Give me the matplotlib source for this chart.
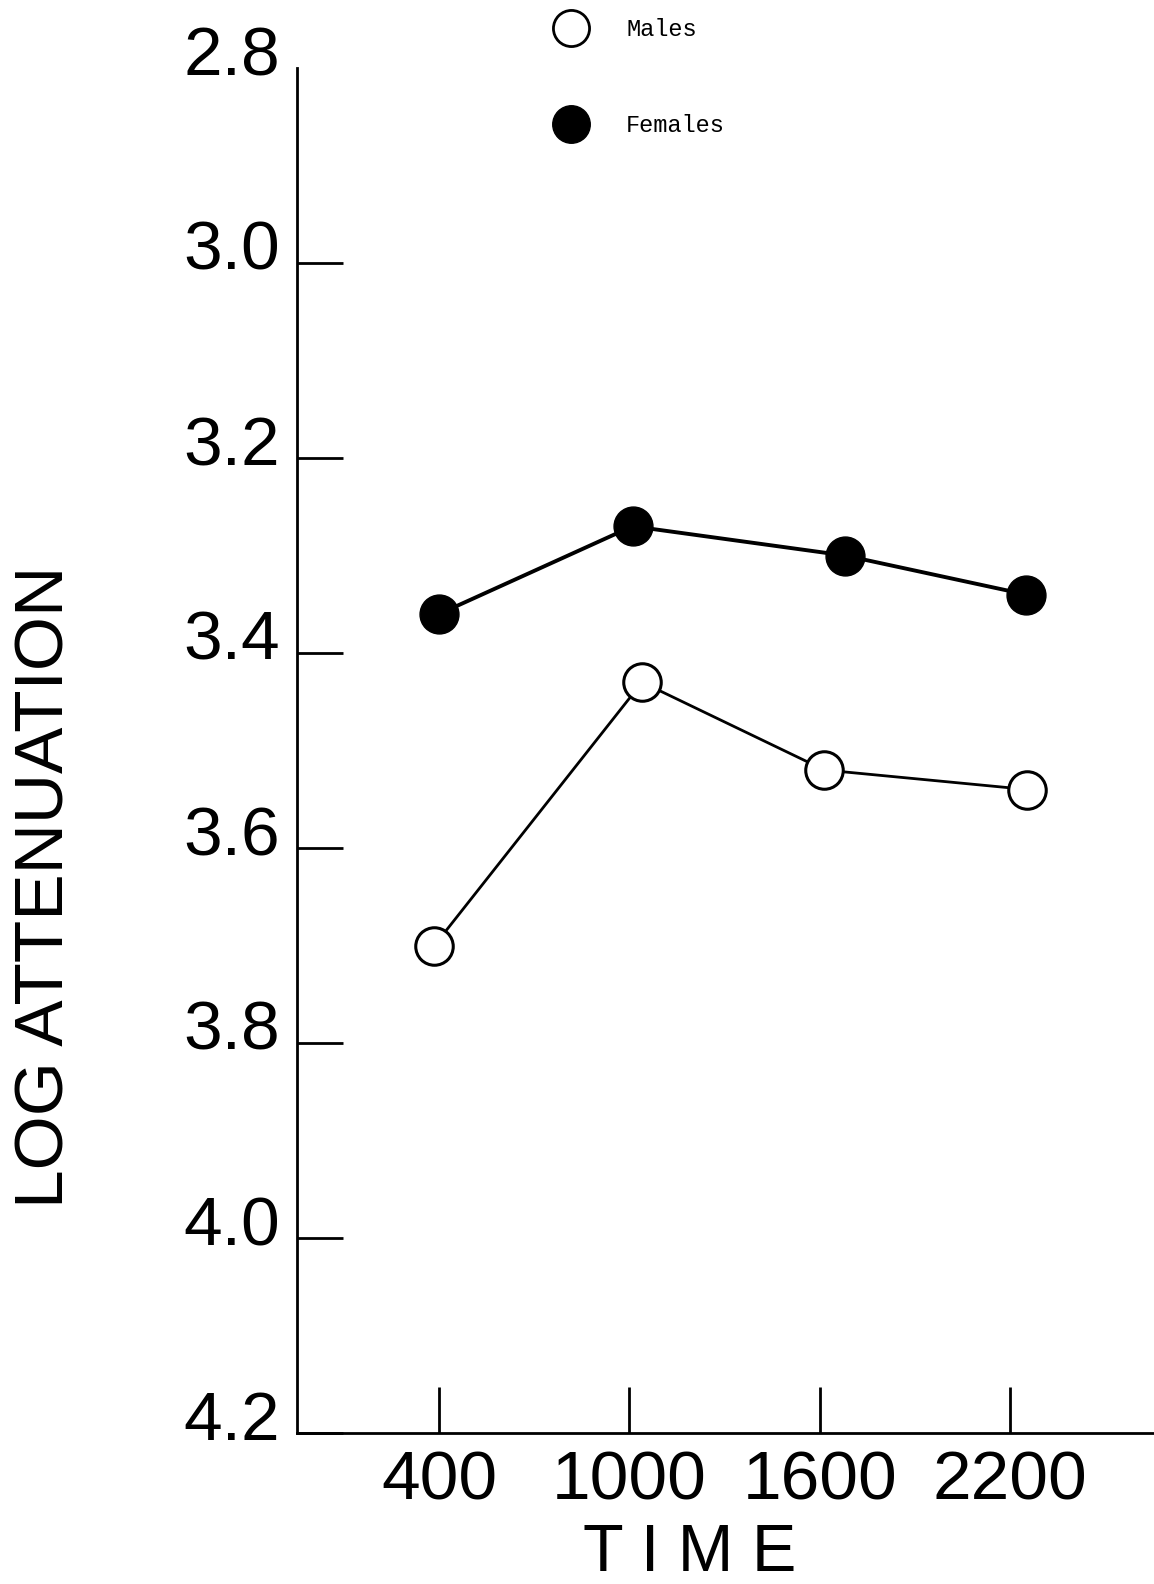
import matplotlib.pyplot as plt
from matplotlib.lines import Line2D
from matplotlib.transforms import ScaledTranslation

# values (y axis runs downward)
females_time = [400, 1010, 1680, 2250]
females_att = [3.36, 3.27, 3.30, 3.34]
males_time = [385, 1040, 1615, 2255]
males_att = [3.70, 3.43, 3.52, 3.54]

x_ticks = [400, 1000, 1600, 2200]
y_ticks = [2.8, 3.0, 3.2, 3.4, 3.6, 3.8, 4.0, 4.2]
y_tick_labels = ["2.8", "3.0", "3.2", "3.4", "3.6", "3.8", "4.0", "4.2"]

W, H = 1154, 1584
letter = ["Liberation Sans", "DejaVu Sans"]

fig = plt.figure(figsize=(W / 100, H / 100), dpi=100)
ax = fig.add_axes([297 / W, 1 - 1433 / H, 1 - 297 / W, (1433 - 68) / H])

ax.plot(females_time, females_att, color="black", lw=2.8, marker="o",
        ms=28, mfc="black", mec="black", zorder=3)
ax.plot(males_time, males_att, color="black", lw=2.0, marker="o",
        ms=27, mfc="white", mec="black", mew=2.2, zorder=3)

ax.set_xlim(-48, 2654)
ax.set_ylim(4.2, 2.8)

for side in ("top", "right"):
    ax.spines[side].set_visible(False)
for side in ("left", "bottom"):
    ax.spines[side].set_linewidth(2.0)

ax.set_xticks(x_ticks)
ax.set_xticklabels([str(t) for t in x_ticks], family=letter, fontsize=50)
ax.set_yticks(y_ticks)
ax.set_yticklabels(y_tick_labels, family=letter, fontsize=50)
ax.tick_params(direction="in", length=33, width=2.0, pad=12)
ax.yaxis.get_major_ticks()[0].tick1line.set_visible(False)

# hand lettered labels sit a bit above their ticks
lift = ScaledTranslation(0, 0.18, fig.dpi_scale_trans)
for lab in ax.get_yticklabels():
    lab.set_transform(lab.get_transform() + lift)

ax.set_ylabel("LOG ATTENUATION", family=letter, fontsize=50, va="center")
ax.yaxis.set_label_coords(-0.294, 0.40)
ax.set_xlabel("T I M E", family=letter, fontsize=48, va="center")
ax.xaxis.set_label_coords(0.4586, -0.089)

handles = [
    Line2D([], [], ls="none", marker="o", ms=26, mfc="white", mec="black", mew=2.0),
    Line2D([], [], ls="none", marker="o", ms=27, mfc="black", mec="black"),
]
fig.legend(handles, ["Males", "Females"], loc="upper left",
           bbox_to_anchor=(553 / W, 1 - 18 / H), frameon=False,
           prop={"family": ["Liberation Mono", "DejaVu Sans Mono"], "size": 17},
           handlelength=1.5, handletextpad=1.6, labelspacing=3.1,
           borderpad=0, borderaxespad=0)

fig.savefig("out.png", dpi=100, facecolor="white")
